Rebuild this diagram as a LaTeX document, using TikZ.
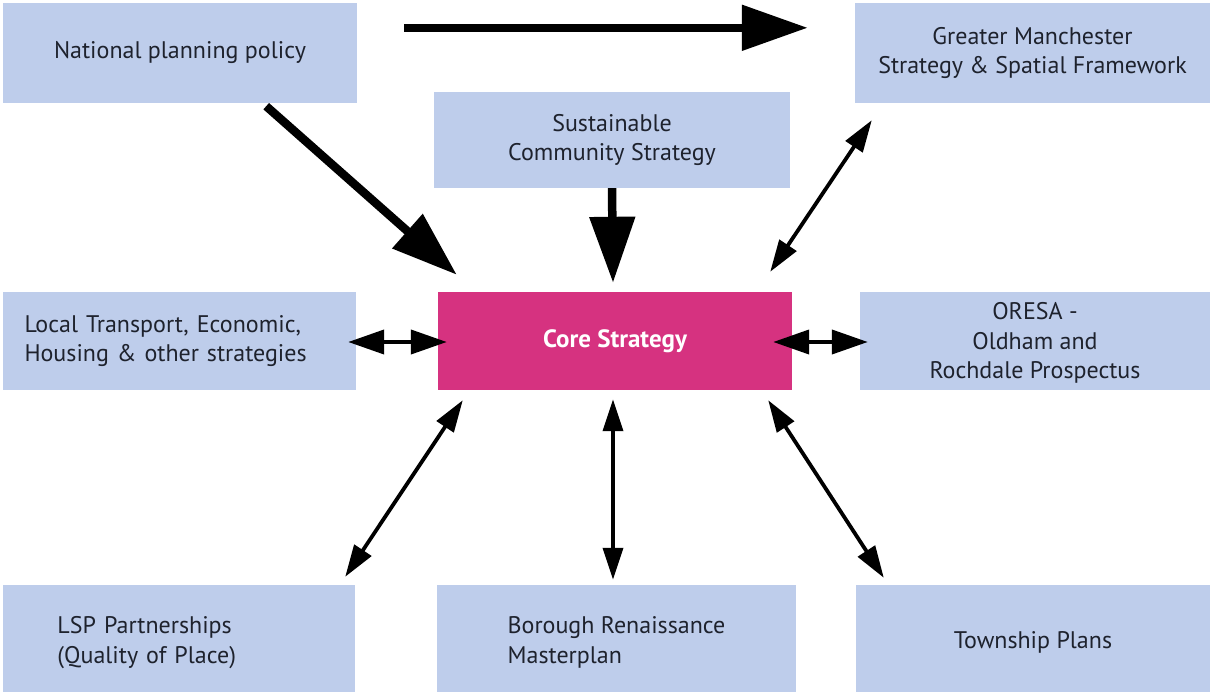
\documentclass[tikz,border=0pt]{standalone}
\usepackage{fontspec}
\setmainfont{PT Sans}
\usetikzlibrary{arrows.meta,calc}
\definecolor{boxblue}{RGB}{190,205,235}
\definecolor{coremag}{RGB}{214,50,128}
\definecolor{txt}{RGB}{30,34,45}
\tikzset{
  boxtext/.style={text=txt, font=\fontsize{24}{29.5}\selectfont, align=center, inner sep=0pt},
  box/.style={boxtext, fill=boxblue, draw=none},
  lowtext/.style={boxtext, yshift=-4pt},
  bigarrow/.style={line width=8.5pt, -{Triangle[length=66pt,width=44pt]}},
  twoway/.style={line width=3.8pt, {Triangle[length=32pt,width=20pt]}-{Triangle[length=32pt,width=20pt]}},
  sideway/.style={line width=4pt, {Triangle[length=36pt,width=24pt]}-{Triangle[length=36pt,width=24pt]}},
}
\begin{document}
\begin{tikzpicture}[x=1pt,y=-1pt]
\useasboundingbox[fill=white] (0,0) rectangle (1213,695);
% boxes
\node[box, minimum width=354pt, minimum height=100pt] (npp) at (180,53) {National planning policy};
\node[box, minimum width=355pt, minimum height=100pt] (gm) at (1032.5,53) {Greater Manchester\\Strategy \& Spatial Framework};
\node[box, minimum width=356pt, minimum height=96pt] (scs) at (612,140) {Sustainable\\Community Strategy};
\node[box, fill=coremag, text=white, font=\fontsize{25}{29.5}\selectfont\bfseries, minimum width=354pt, minimum height=98pt] (core) at (615,341) {Core Strategy};
\node[box, align=left, text width=330pt, minimum width=353pt, minimum height=98pt] (lt) at (179.5,341) {\hspace*{10pt}Local Transport, Economic,\\\hspace*{10pt}Housing \& other strategies};
\node[box, minimum width=350pt, minimum height=98pt,
  label={[boxtext, yshift=-2pt]center:ORESA -\\Oldham and\\Rochdale Prospectus}] (oresa) at (1035,341) {};
\node[box, minimum width=352pt, minimum height=107pt,
  label={[lowtext, align=left, text width=297pt]center:\hspace*{27pt}LSP Partnerships\\\hspace*{27pt}(Quality of Place)}] (lsp) at (179,638.5) {};
\node[box, minimum width=359pt, minimum height=107pt,
  label={[lowtext, align=left]center:Borough Renaissance\\Masterplan}] (brm) at (616.5,638.5) {};
\node[box, minimum width=354pt, minimum height=107pt,
  label={[lowtext]center:Township Plans}] (tp) at (1033,638.5) {};
% arrows
\draw[bigarrow] ($(npp.north east)+(47,25)$) -- ($(gm.north west)+(-47,25)$);
\draw[bigarrow] ($(npp.south east)+(-91,3)$) -- ($(core.north west)+(19,-17)$);
\draw[bigarrow] (scs.south) -- ($(core.north)+(-2,-9)$);
\draw[twoway] ($(core.north east)+(-22,-20)$) -- ($(gm.south west)+(17,17)$);
\draw[sideway] ($(lt.east)+(-8,1)$) -- ($(core.west)+(9,1)$);
\draw[sideway] ($(core.east)+(-19,1)$) -- ($(oresa.west)+(8,1)$);
\draw[twoway] ($(core.south west)+(25,10)$) -- ($(lsp.north east)+(-10,-8)$);
\draw[twoway] ($(core.south)+(-2,9)$) -- ($(brm.north)+(-3.5,-5)$);
\draw[twoway] ($(core.south east)+(-24,10)$) -- ($(tp.north west)+(28,-7)$);
\end{tikzpicture}
\end{document}
